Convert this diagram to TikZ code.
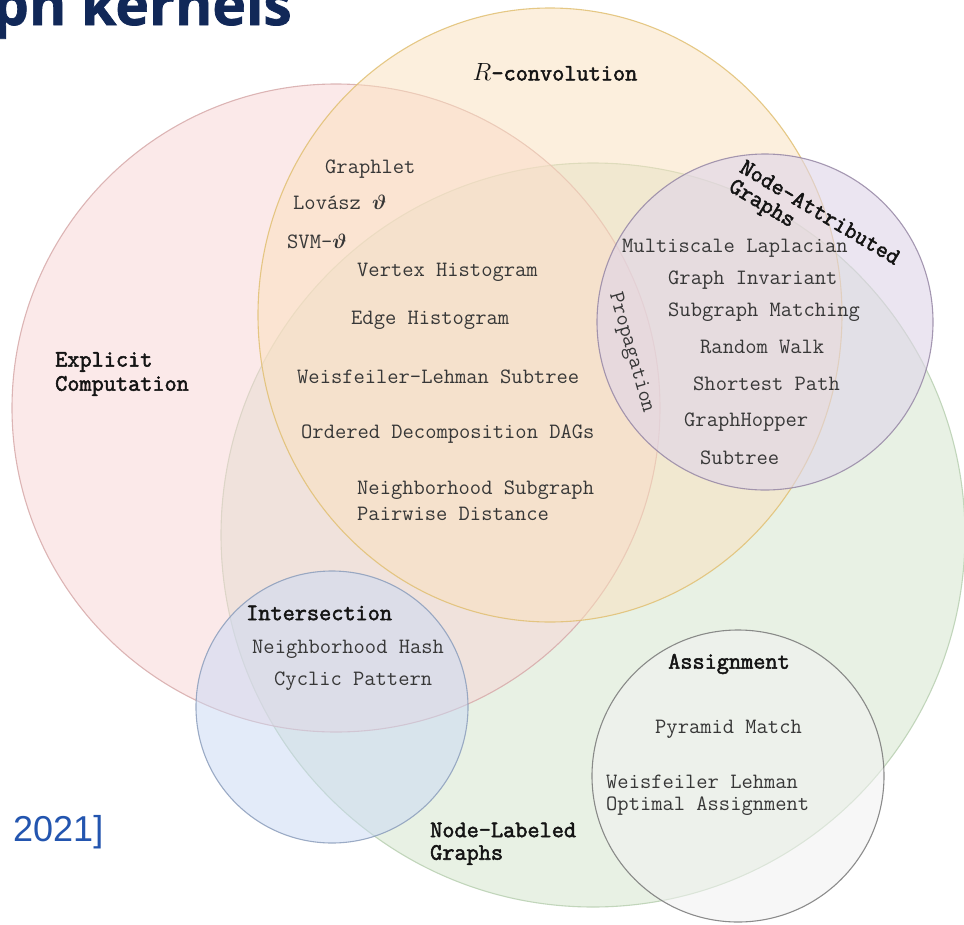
\documentclass[tikz,border=0pt]{standalone}
\usepackage{fontspec}
\usepackage{amsmath}
\setmonofont{Latin Modern Mono}[BoldFont={Latin Modern Mono}, BoldFeatures={FakeBold=2.2}]
\newfontfamily\titlefont{Open Sans}[BoldFeatures={FakeBold=1.2}]
\newfontfamily\citefont{Liberation Sans}

\definecolor{pinkfill}{RGB}{249,213,213}
\definecolor{pinkline}{RGB}{215,170,170}
\definecolor{yellowfill}{RGB}{251,225,189}
\definecolor{yellowline}{RGB}{225,192,115}
\definecolor{greenfill}{RGB}{232,241,228}
\definecolor{greenline}{RGB}{185,208,178}
\definecolor{purplefill}{RGB}{223,213,233}
\definecolor{purpleline}{RGB}{150,135,165}
\definecolor{bluefill}{RGB}{201,217,245}
\definecolor{blueline}{RGB}{140,158,188}
\definecolor{assignfill}{RGB}{242,242,242}
\definecolor{assignline}{RGB}{120,120,120}
\definecolor{itemgray}{RGB}{55,55,55}
\definecolor{headblack}{RGB}{20,20,20}
\definecolor{titlenavy}{RGB}{17,40,88}
\definecolor{citeblue}{RGB}{35,85,175}

\begin{document}
\begin{tikzpicture}[x=1pt,y=-1pt,
  kernelset/.style={line width=1.1pt, draw opacity=0.85},
  item/.style={font=\ttfamily\fontsize{21.9}{26}\selectfont, text=itemgray,
    inner sep=0pt, anchor=west},
  head/.style={font=\ttfamily\bfseries\fontsize{23.6}{28}\selectfont,
    text=headblack, inner sep=0pt, anchor=west, align=left},
]
\useasboundingbox (0,0) rectangle (964,924);
\clip (0,0) rectangle (964,924);
\fill[white] (0,0) rectangle (964,924);

% kernel families as overlapping sets
\draw[kernelset, fill=greenfill, draw=greenline] (593,535) circle [radius=372];
\draw[kernelset, fill=pinkfill, fill opacity=0.5, draw=pinkline] (336,408) circle [radius=324];
\draw[kernelset, fill=yellowfill, fill opacity=0.5, draw=yellowline] (550,315) ellipse [x radius=292, y radius=307];
\draw[kernelset, fill=purplefill, fill opacity=0.6, draw=purpleline] (765,322) circle [radius=168];
\draw[kernelset, fill=bluefill, fill opacity=0.5, draw=blueline] (332,707) circle [radius=136];
\draw[kernelset, fill=assignfill, fill opacity=0.55, draw=assignline] (738,776) circle [radius=146];

% heading and citation fragments
\node[anchor=base east, inner sep=0pt, text=titlenavy,
  font=\titlefont\bfseries\fontsize{57}{57}\selectfont] (title) at (292,25) {ph kernels};
\node[anchor=base west, inner sep=0pt, text=citeblue,
  font=\citefont\fontsize{36}{36}\selectfont] (cite) at (13,841) {2021]};

% set names
\node[head, anchor=center] (rconv) at (555,72) {\mdseries$R$\bfseries-convolution};
\node[head] (expl) at (55,362) {Explicit};
\node[head] (comp) at (55,386) {Computation};
\node[head] (inter) at (246,613) {Intersection};
\node[head] (assign) at (668,664) {Assignment};
\node[head] (nlab) at (430,830) {Node-Labeled};
\node[head] (nlabg) at (430,855) {Graphs};
\node[head, rotate=-31] (nattr) at (742,165) {Node-Attributed};
\node[head, rotate=-31] (nattrg) at (730,186) {Graphs};

% R-convolution / explicit computation kernels
\node[item] (graphlet) at (325,169) {Graphlet};
\node[item] (lovasz) at (293,202) {Lovász $\boldsymbol{\vartheta}$};
\node[item] (svm) at (287,241) {SVM-$\boldsymbol{\vartheta}$};
\node[item] (vhist) at (357,272) {Vertex Histogram};
\node[item] (ehist) at (351,320) {Edge Histogram};
\node[item] (wlsub) at (297,377) {Weisfeiler-Lehman Subtree};
\node[item] (odd) at (301,434) {Ordered Decomposition DAGs};
\node[item] (nspd1) at (357,490) {Neighborhood Subgraph};
\node[item] (nspd2) at (357,514) {Pairwise Distance};

% node-attributed kernels
\node[item] (mlap) at (622,248) {Multiscale Laplacian};
\node[item] (ginv) at (668,280) {Graph Invariant};
\node[item] (smatch) at (668,312) {Subgraph Matching};
\node[item] (rwalk) at (700,347) {Random Walk};
\node[item] (spath) at (693,384) {Shortest Path};
\node[item] (ghop) at (684,422) {GraphHopper};
\node[item] (subtree) at (700,458) {Subtree};
\node[item, anchor=center, rotate=-74] (prop) at (631,353) {Propagation};

% intersection kernels
\node[item] (nhash) at (252,649) {Neighborhood Hash};
\node[item] (cyclic) at (274,681) {Cyclic Pattern};

% assignment kernels
\node[item] (pyramid) at (655,729) {Pyramid Match};
\node[item] (wloa1) at (606,782) {Weisfeiler Lehman};
\node[item] (wloa2) at (606,806) {Optimal Assignment};
\end{tikzpicture}
\end{document}
